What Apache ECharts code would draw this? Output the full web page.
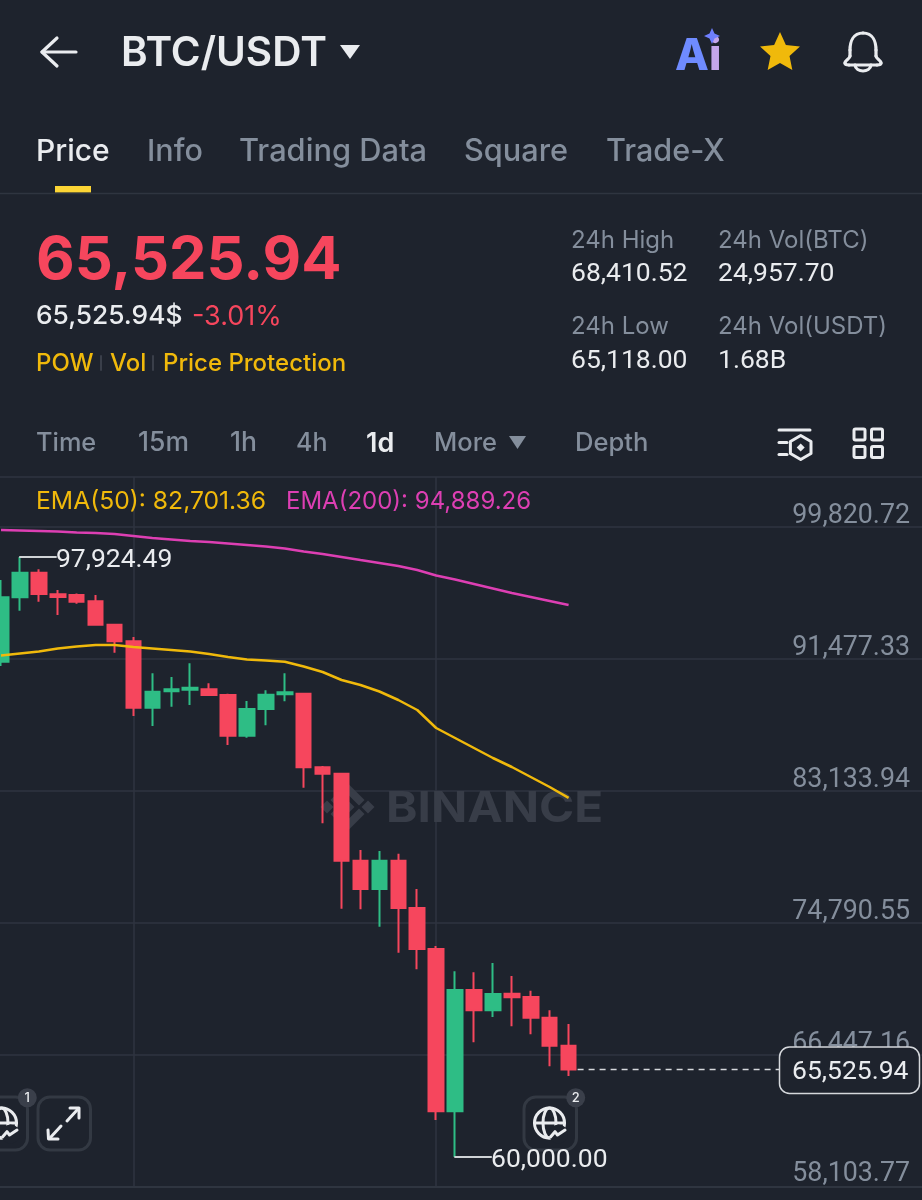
<!DOCTYPE html>
<html><head><meta charset="utf-8">
<style>html,body{margin:0;padding:0;background:#1e232d}#c{width:922px;height:1200px}</style>
<script src="https://cdn.jsdelivr.net/npm/echarts@6/dist/echarts.min.js"></script>
</head><body><div id="c"></div>
<script>
var opens  =[91307,95377,96932,95567,95523,95124,93645,92596,88399,89436,89537,89562,89202,86630,88317,89246,89284,84632,84228,78729,76940,78729,75739,73148,62889,70556,69273,70322,70114,68805,67036];
var closes =[95377,96932,95586,95396,95099,93645,92596,88399,89411,89562,89664,89202,86630,88317,89221,89373,84632,84228,78729,76940,78729,75739,73148,62889,70556,69273,70303,70095,68805,67036,65525.94];
var lows   =[91035,94530,95099,94258,94973,93595,91876,87874,87243,88463,88570,89139,86042,86503,87287,88804,83343,81093,75695,75657,74557,72914,71865,62339,60000,67250,68850,68262,67756,65734,65118];
var highs  =[96471,97924.49,97147,95839,95617,95523,93700,92868,90574,90340,91206,89942,89284,88823,89499,90574,89329,84715,84260,79405,79342,79171,76940,73337,71738,71675,72263,71441,70512,69273,68410.52];
var ema50  =[91699,91825,91951,92141,92267,92362,92362,92236,92141,92046,91951,91793,91604,91445,91382,91307,91003,90655,90150,89834,89423,88886,88254,87116,86484,85852,85220,84651,84019,83387,82701.36];
var ema200 =[99631,99600,99568,99536,99473,99442,99378,99252,99125,99031,98936,98873,98778,98683,98588,98462,98272,98114,97925,97735,97546,97356,97103,96755,96502,96218,95933,95649,95396,95143,94889.26];
var priceTicks =[58103.77,66447.16,74790.55,83133.94,91477.33,99820.72];
var priceLabels=['58,103.77','66,447.16','74,790.55','83,133.94','91,477.33','99,820.72'];
var axisTop=102981.07, axisBottom=58103.77;
var emptySlots=19;
var days=opens.map(function(_,i){return 'D'+(i+1);});
var slots=days.slice(); for(var s=0;s<emptySlots;s++) slots.push('+'+(s+1));
var highLabel={idx:1,value:97924.49,text:'97,924.49'};
var lowLabel={idx:24,value:60000,text:'60,000.00'};
var lastPrice=65525.94, lastPriceText='65,525.94';

var BG='#1e232d',RED='#f6465d',GREEN='#2ebd85',YEL='#f0b90b',GRAY='#848e9c',WHITE='#eaecef',LINE='#2f3540',MAG='#dd3fb3',BTN='#333943';
var FF='Inter, "Noto Sans", sans-serif';
var NUM='Roboto, Inter, sans-serif';
var BAND=18.92;

var chart=echarts.init(document.getElementById('c'),null,{width:922,height:1200});
var candles=opens.map(function(o,i){return [o,closes[i],lows[i],highs[i]];});
chart.setOption({
  animation:false,backgroundColor:BG,
  grid:{left:1-BAND/2,top:477,width:BAND*slots.length,height:710,containLabel:false,outerBoundsMode:'none'},
  xAxis:{type:'category',data:slots,boundaryGap:true,
    axisLine:{show:true,lineStyle:{color:LINE,width:2}},axisTick:{show:false},axisLabel:{show:false},
    splitLine:{show:true,alignWithLabel:true,lineStyle:{color:LINE,width:1.5},interval:function(i){return i===7||i===23;}}},
  yAxis:{type:'value',position:'right',min:axisBottom,max:axisTop,scale:true,
    axisLine:{show:false},
    axisTick:{show:false,customValues:priceTicks.concat([axisTop])},
    splitLine:{show:true,lineStyle:{color:LINE,width:1.5}},
    axisLabel:{show:true,inside:true,margin:27.5,customValues:priceTicks,color:GRAY,fontFamily:NUM,fontSize:26.8,lineHeight:22,verticalAlign:'bottom',
      formatter:function(v){var i=priceTicks.indexOf(v);var t=i>=0?priceLabels[i]:'';return i===0?'{low|'+t+'}':t;},
      rich:{low:{color:GRAY,fontFamily:NUM,fontSize:26.8,lineHeight:22,padding:[0,0,3,0]}}}},
  series:[
    {type:'candlestick',name:'BTC/USDT',data:candles,barWidth:15,z:3,
      itemStyle:{color:GREEN,color0:RED,borderColor:GREEN,borderColor0:RED,borderColorDoji:GREEN,borderWidth:2}},
    {type:'line',name:'EMA(50)',data:ema50,symbol:'none',smooth:false,z:4,lineStyle:{color:YEL,width:2.5}},
    {type:'line',name:'EMA(200)',data:ema200,symbol:'none',smooth:false,z:4,lineStyle:{color:MAG,width:2.5}}
  ]
});

function T(x,y,text,fill,font,align,z){return {type:'text',z:z||10,style:{x:x,y:y+1.5,text:text,fill:fill,font:font,align:align||'left',verticalAlign:'middle'}};}
function ln(x1,y1,x2,y2,c,w,z){return {type:'line',z:z||10,shape:{x1:x1,y1:y1,x2:x2,y2:y2},style:{stroke:c,lineWidth:w,lineCap:'round'}};}
function poly(points,fill,z){return {type:'polygon',z:z||10,shape:{points:points},style:{fill:fill}};}
function pl(points,c,w,z){return {type:'polyline',z:z||10,shape:{points:points},style:{stroke:c,lineWidth:w,fill:'none',lineCap:'round',lineJoin:'round'}};}
function rr(x,y,w,h,r,stroke,sw,fill,z){return {type:'rect',z:z||10,shape:{x:x,y:y,width:w,height:h,r:r},style:{stroke:stroke,lineWidth:sw,fill:fill||'none'}};}
function bz(a,b,c,d,col,w){return {type:'bezierCurve',z:10,shape:{x1:a[0],y1:a[1],cpx1:b[0],cpy1:b[1],cpx2:c[0],cpy2:c[1],x2:d[0],y2:d[1]},style:{stroke:col,lineWidth:w,fill:'none',lineCap:'round'}};}
function starPts(cx,cy,R,r){var p=[];for(var i=0;i<10;i++){var a=-Math.PI/2+i*Math.PI/5,q=i%2?r:R;p.push([cx+q*Math.cos(a),cy+q*Math.sin(a)]);}return p;}

var g=[];
// header
g.push(pl([[57,38],[42,52],[57,66]],WHITE,3.2),ln(42,52,76,52,WHITE,3.2));
g.push(T(121,52,'BTC/USDT',WHITE,'600 40.5px '+FF));
g.push(poly([[340,45],[360,45],[350,59]],WHITE));
g.push(T(675,55,'A','#6f8bff','800 44px '+FF),T(709,55,'i','#c5a6ea','800 44px '+FF));
g.push(poly([[712,28],[714.5,33.5],[720,36],[714.5,38.5],[712,44],[709.5,38.5],[704,36],[709.5,33.5]],'#6f7fff'));
g.push(poly(starPts(780,53,21,10),YEL));
// bell
g.push(bz([863,33],[853,33],[850,42],[850,50],WHITE,3.2),bz([863,33],[873,33],[876,42],[876,50],WHITE,3.2));
g.push(ln(850,50,850,56,WHITE,3.2),ln(876,50,876,56,WHITE,3.2));
g.push(bz([850,56],[850,59],[845,60],[845,63],WHITE,3.2),bz([876,56],[876,59],[881,60],[881,63],WHITE,3.2));
g.push(bz([845,63],[845,65],[847,65],[849,65],WHITE,3.2),bz([881,63],[881,65],[879,65],[877,65],WHITE,3.2));
g.push(ln(849,65,877,65,WHITE,3.2),bz([855,65],[856,73],[870,73],[871,65],WHITE,3.2));
// tabs
[[36,'Price',WHITE,30],[147,'Info',GRAY,30.5],[239,'Trading Data',GRAY,30.8],[464,'Square',GRAY,30.7],[606,'Trade-X',GRAY,30.6]].forEach(function(t){g.push(T(t[0],150,t[1],t[2],'500 '+t[3]+'px '+FF));});
g.push({type:'rect',z:10,shape:{x:55,y:186,width:36,height:6.5},style:{fill:'#fcd535'}});
g.push(ln(0,193.5,922,193.5,LINE,1.5));
// price block
g.push(T(36,260,'65,525.94',RED,'700 59.6px '+FF));
g.push(T(36,315,'65,525.94$',WHITE,'500 26.3px '+FF));
g.push(T(192,315,'-3.01%',RED,'400 27px '+FF));
g.push(T(36,362,'POW',YEL,'500 24px '+FF),T(110,362,'Vol',YEL,'500 24px '+FF),T(163,362,'Price Protection',YEL,'500 24px '+FF));
g.push(ln(101,356,101,370,'#3a3f4a',2),ln(153,356,153,370,'#3a3f4a',2));
[[571,239,'24h High'],[718,239,'24h Vol(BTC)'],[571,325,'24h Low'],[718,325,'24h Vol(USDT)']].forEach(function(t){g.push(T(t[0],t[1],t[2],GRAY,'400 24px '+FF));});
[[571,273,'68,410.52'],[718,273,'24,957.70'],[571,360,'65,118.00'],[718,360,'1.68B']].forEach(function(t){g.push(T(t[0],t[1],t[2],WHITE,'400 26.5px '+NUM));});
// intervals
[[36,'Time',GRAY,25.3,500],[138,'15m',GRAY,26.5,500],[230,'1h',GRAY,26.5,500],[296,'4h',GRAY,25,500],[366,'1d',WHITE,27,600],[434,'More',GRAY,25.5,500],[575,'Depth',GRAY,25.6,500]].forEach(function(t){g.push(T(t[0],442,t[1],t[2],t[4]+' '+t[3]+'px '+FF));});
g.push(poly([[509,436],[526,436],[517.5,449]],GRAY));
// tool icons
g.push(ln(779,430,810,430,WHITE,3),ln(779,442.5,787,442.5,WHITE,3),ln(779,454.5,787,454.5,WHITE,3));
g.push({type:'polygon',z:10,shape:{points:[[800.7,435.5],[811,441.5],[811,453.5],[800.7,459.5],[790.4,453.5],[790.4,441.5]]},style:{stroke:WHITE,lineWidth:3,fill:'none',lineJoin:'round'}});
g.push(poly([[800.7,443.5],[804.7,447.5],[800.7,451.5],[796.7,447.5]],WHITE));
[[854,429],[871.5,429],[854,446.5],[871.5,446.5]].forEach(function(p){g.push(rr(p[0],p[1],11,11,1.5,WHITE,3));});
// legend
g.push(T(36,500,'EMA(50): 82,701.36',YEL,'400 24.7px '+FF),T(286,500,'EMA(200): 94,889.26',MAG,'400 24px '+FF));
// watermark
var wx=347.5,wy=807,wc='#383d48';
function wp(pts){return poly(pts.map(function(p){return [wx+p[0],wy+p[1]];}),wc,1);}
g.push(wp([[0,-7],[7,0],[0,7],[-7,0]]),wp([[-27,0],[-20.5,-6.5],[-14,0],[-20.5,6.5]]),wp([[27,0],[20.5,-6.5],[14,0],[20.5,6.5]]));
g.push(wp([[0,-24],[17,-7],[11.5,-1.5],[0,-13],[-11.5,-1.5],[-17,-7]]),wp([[0,24],[17,7],[11.5,1.5],[0,13],[-11.5,1.5],[-17,7]]));
g.push({type:'text',z:1,x:386,y:809,scaleX:1.108,style:{x:0,y:0,text:'BINANCE',fill:wc,font:'700 43px '+FF,align:'left',verticalAlign:'middle'}});
// high / low / last annotations, placed through the chart's own scales
var ph=chart.convertToPixel({gridIndex:0},[highLabel.idx,highLabel.value]);
var pl2=chart.convertToPixel({gridIndex:0},[lowLabel.idx,lowLabel.value]);
var pc=chart.convertToPixel({gridIndex:0},[days.length-1,lastPrice]);
g.push(ln(ph[0],ph[1],ph[0]+36,ph[1],'#cfd3d6',2));
g.push(T(ph[0]+36,ph[1]+1.5,highLabel.text,WHITE,'400 26.5px '+NUM));
g.push(ln(pl2[0],pl2[1],pl2[0]+36,pl2[1],'#cfd3d6',2,16));
g.push(T(pl2[0]+36,pl2[1]+2,lowLabel.text,WHITE,'400 26.5px '+NUM,'left',16));
g.push({type:'line',z:10,shape:{x1:pc[0]+9,y1:pc[1],x2:780,y2:pc[1]},style:{stroke:'#d5d8dc',lineWidth:1.5,lineDash:[6,5]}});
// buttons
function globe(cx,cy){var c=WHITE,o=[];
 o.push({type:'circle',z:11,shape:{cx:cx,cy:cy,r:15},style:{stroke:c,lineWidth:3,fill:'none'}});
 o.push({type:'ellipse',z:11,shape:{cx:cx,cy:cy,rx:6.5,ry:15},style:{stroke:c,lineWidth:3,fill:'none'}});
 o.push(ln(cx-15,cy,cx+15,cy,c,3,11));
 o.push({type:'circle',z:12,shape:{cx:cx+9,cy:cy+11,r:9.5},style:{fill:BG}});
 o.push(pl([[cx+1,cy+14],[cx+5.5,cy+8.7],[cx+8,cy+12],[cx+15.5,cy+7]],c,3,13));
 return o;}
g.push(rr(524,1097,52.5,53,12,BTN,3,BG,10));
g=g.concat(globe(549.5,1123));
g.push({type:'circle',z:14,shape:{cx:575.7,cy:1097.7,r:9.5},style:{fill:'#3a3f4a'}},T(575.7,1096.5,'2',WHITE,'500 13px '+FF,'center',15));
g.push(rr(-25,1097,52.5,53,12,BTN,3,BG,10));
g=g.concat(globe(1.5,1123));
g.push({type:'circle',z:14,shape:{cx:27.3,cy:1097.7,r:9.5},style:{fill:'#3a3f4a'}},T(27.3,1096.5,'1',WHITE,'500 13px '+FF,'center',15));
g.push(rr(38,1097,52.5,53,12,BTN,3,BG,10));
g.push(ln(67,1121,78,1109,WHITE,3),pl([[70,1108],[79,1108],[79,1118]],WHITE,3),ln(61,1126,50,1138,WHITE,3),pl([[48,1130],[48.5,1139],[58,1139]],WHITE,3));
// last price box
g.push(rr(779.5,1047,140,46.5,10,'#d5d8dc',1.5,BG,20));
g.push(T(792,1071,lastPriceText,WHITE,'400 26.5px '+NUM,'left',21));
chart.setOption({graphic:{elements:g}});
</script></body></html>
